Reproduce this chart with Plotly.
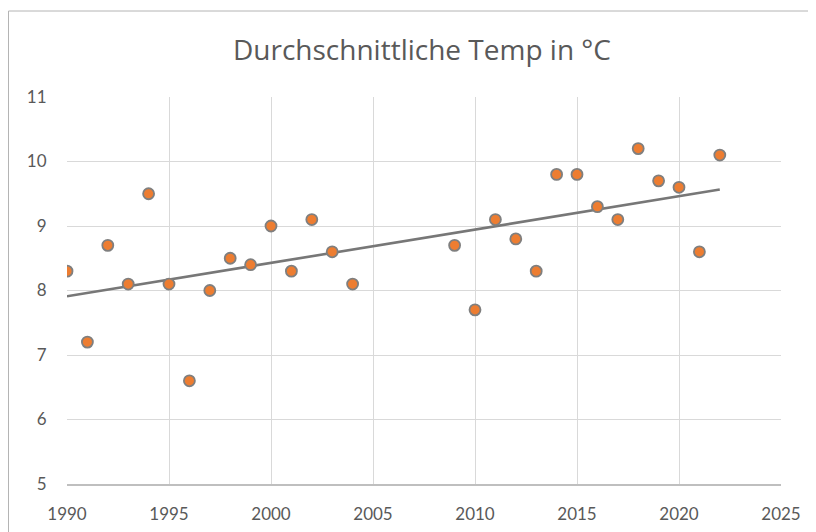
import numpy as np
import plotly.graph_objects as go

years = [1990, 1991, 1992, 1993, 1994, 1995, 1996, 1997, 1998, 1999, 2000, 2001, 2002, 2003, 2004,
         2009, 2010, 2011, 2012, 2013, 2014, 2015, 2016, 2017, 2018, 2019, 2020, 2021, 2022]
temps = [8.3, 7.2, 8.7, 8.1, 9.5, 8.1, 6.6, 8.0, 8.5, 8.4, 9.0, 8.3, 9.1, 8.6, 8.1,
         8.7, 7.7, 9.1, 8.8, 8.3, 9.8, 9.8, 9.3, 9.1, 10.2, 9.7, 9.6, 8.6, 10.1]
title_text = "Durchschnittliche Temp in °C"
x_ticks = [1990, 1995, 2000, 2005, 2010, 2015, 2020, 2025]
y_ticks = [5, 6, 7, 8, 9, 10, 11]

# linear trendline (least squares) over the data range
slope, intercept = np.polyfit(years, temps, 1)
trend_x = [min(years), max(years)]
trend_y = [slope * x + intercept for x in trend_x]

FONT = "Lato"
TXT = "#595959"

fig = go.Figure()
fig.add_trace(go.Scatter(
    x=trend_x, y=trend_y, mode="lines",
    line=dict(color="#777777", width=2.6),
    hoverinfo="skip", showlegend=False))
fig.add_trace(go.Scatter(
    x=years, y=temps, mode="markers",
    marker=dict(size=11, color="#ED7D31", line=dict(color="#7f7f7f", width=1.8)),
    showlegend=False))

# the page body has an 8px margin, so the figure starts at (8, 8) in the window
OFF = 8
W, H = 816 - OFF, 532 - OFF
L, R, T, B = 67 - OFF, 35, 97 - OFF, 48
pw, ph = W - L - R, H - T - B

def px2paper_x(px):
    return (px - OFF - L) / pw

def px2paper_y(py):
    return (H + OFF - B - py) / ph

fig.update_layout(
    width=W, height=H,
    margin=dict(l=L, r=R, t=T, b=B, autoexpand=False),
    paper_bgcolor="white", plot_bgcolor="white",
    font=dict(family=FONT, color=TXT, size=17),
    title=dict(text=title_text, x=(422 - OFF) / W, y=1 - (50 - OFF) / H,
               xanchor="center", yanchor="middle",
               font=dict(family="Open Sans", size=28, color=TXT)),
    xaxis=dict(range=[1990, 2025], tickvals=x_ticks, showgrid=True, gridcolor="#d9d9d9", gridwidth=1,
               showline=True, linecolor="#bfbfbf", linewidth=1.5, zeroline=False, automargin=False,
               ticks="outside", ticklen=14, tickcolor="rgba(0,0,0,0)",
               tickfont=dict(family=FONT, size=17, color=TXT)),
    yaxis=dict(range=[5, 11], tickvals=y_ticks, showgrid=True, gridcolor="#d9d9d9", gridwidth=1,
               showline=False, zeroline=False, automargin=False,
               ticks="outside", ticklen=16, tickcolor="rgba(0,0,0,0)",
               tickfont=dict(family=FONT, size=17, color=TXT)),
    shapes=[dict(type="rect", xref="paper", yref="paper",
                 x0=px2paper_x(8.5), x1=px2paper_x(840), y0=px2paper_y(560), y1=px2paper_y(11),
                 line=dict(color="#b4b4b4", width=1), fillcolor="rgba(0,0,0,0)", layer="below")],
)

fig.write_html("out.html")
